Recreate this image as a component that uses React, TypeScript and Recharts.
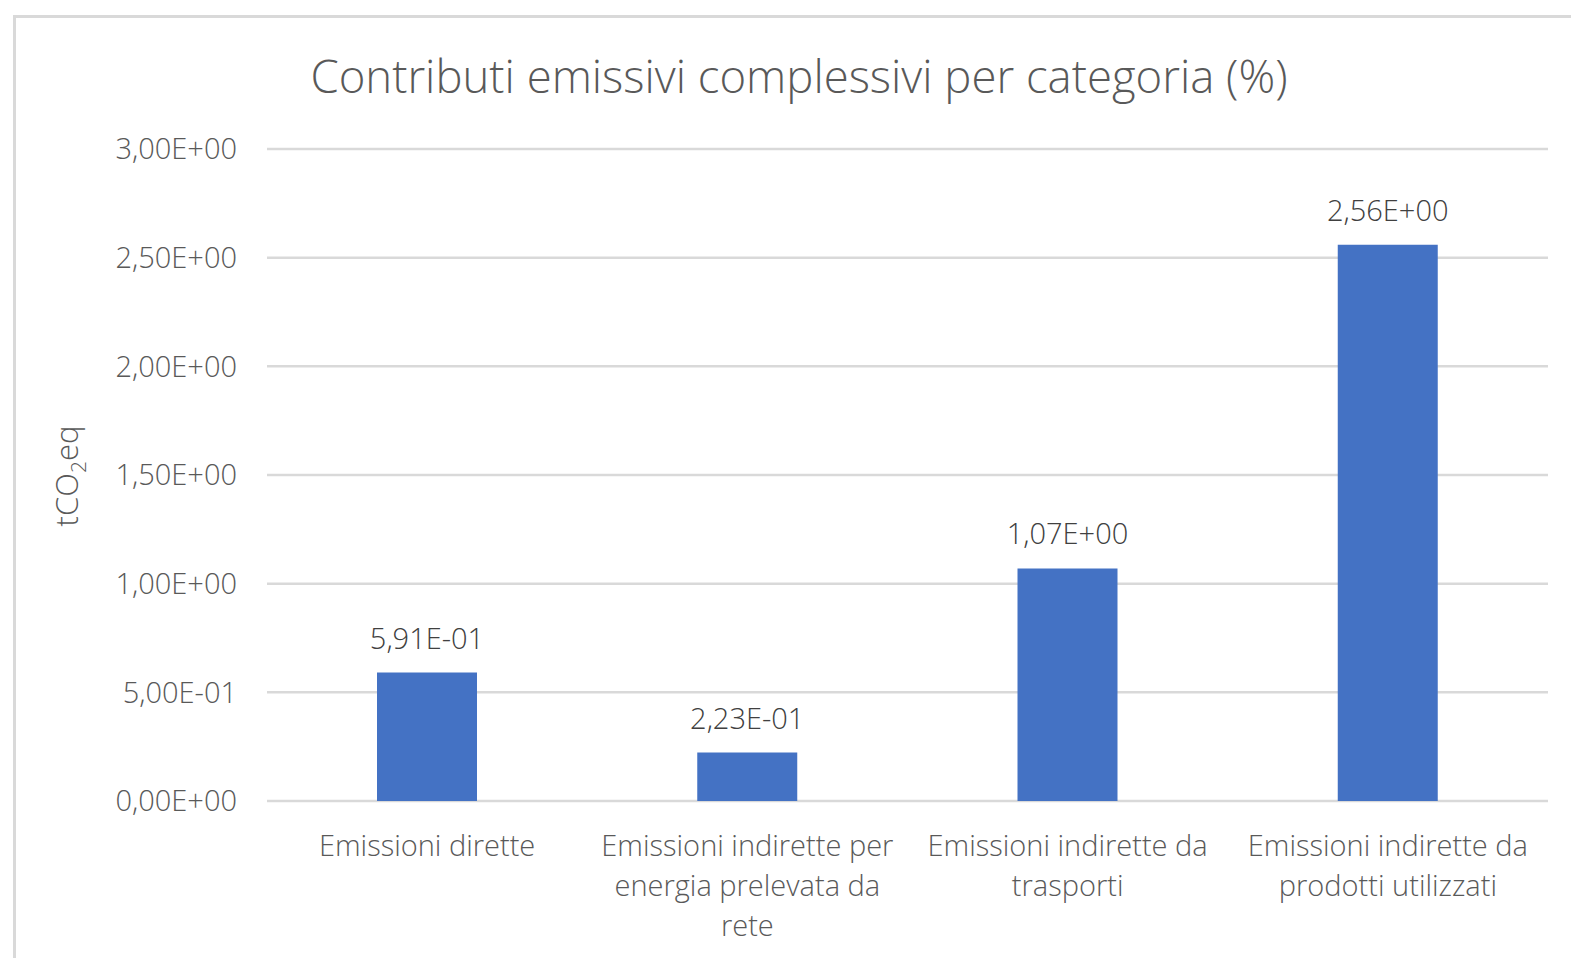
import React from "react";
import { BarChart, Bar, XAxis, YAxis, CartesianGrid, LabelList, Label } from "recharts";

const categories = [
  "Emissioni dirette",
  "Emissioni indirette per energia prelevata da rete",
  "Emissioni indirette da trasporti",
  "Emissioni indirette da prodotti utilizzati",
];

// wrapped lines as they appear under each bar
const tickLines = [
  ["Emissioni dirette"],
  ["Emissioni indirette per", "energia prelevata da", "rete"],
  ["Emissioni indirette da", "trasporti"],
  ["Emissioni indirette da", "prodotti utilizzati"],
];

const values = [0.591, 0.223, 1.07, 2.56];
const yTicks = [0, 0.5, 1, 1.5, 2, 2.5, 3];

const data = categories.map((name, i) => ({ name, value: values[i], idx: i }));

const FONT = "'Open Sans', 'Noto Sans', sans-serif";
const GREY = "#595959";

// 5.91e-1 -> 5,91E-01
function sci(v: number) {
  const [m, e] = v.toExponential(2).split("e");
  const exp = parseInt(e, 10);
  const sign = exp < 0 ? "-" : "+";
  const abs = Math.abs(exp).toString().padStart(2, "0");
  return m.replace(".", ",") + "E" + sign + abs;
}

function CatTick(props: any) {
  const { x, y, payload } = props;
  const lines = tickLines[payload.index] || [payload.value];
  return (
    <text x={x} y={y} textAnchor="middle" fill={GREY} fontSize={29} fontFamily={FONT} fontWeight={300}>
      {lines.map((l, i) => (
        <tspan key={i} x={x} dy={i === 0 ? 47 : 40}>
          {l}
        </tspan>
      ))}
    </text>
  );
}

function YTitle() {
  return (
    <text
      transform="translate(78,476) rotate(-90)"
      textAnchor="middle"
      fill={GREY}
      fontSize={31}
      fontFamily={FONT}
      fontWeight={300}
    >
      tCO
      <tspan fontSize={21} dy={8}>2</tspan>
      <tspan dy={-8}>eq</tspan>
    </text>
  );
}

export default function App() {
  return (
    <div style={{ position: "absolute", left: 0, top: 0, width: 1571, height: 958, background: "#fff", overflow: "hidden" }}>
      <div
        style={{
          position: "absolute",
          left: 13,
          top: 15,
          right: -10,
          bottom: -10,
          borderLeft: "3px solid #d9d9d9",
          borderTop: "3px solid #d9d9d9",
        }}
      />
      <div
        style={{
          position: "absolute",
          left: 0,
          width: 1598,
          top: 48,
          textAlign: "center",
          fontFamily: FONT,
          fontWeight: 300,
          fontSize: 45.5,
          color: GREY,
          lineHeight: "54px",
        }}
      >
        Contributi emissivi complessivi per categoria (%)
      </div>
      <div style={{ position: "absolute", left: 0, top: 0 }}>
        <BarChart width={1571} height={958} data={data} margin={{ top: 149, right: 23, bottom: 0, left: 0 }}>
          <CartesianGrid vertical={false} stroke="#d9d9d9" strokeWidth={2.5} />
          <XAxis
            dataKey="name"
            axisLine={false}
            tickLine={false}
            tick={<CatTick />}
            interval={0}
            height={157}
          />
          <YAxis
            width={267}
            domain={[0, 3]}
            ticks={yTicks}
            axisLine={false}
            tickLine={false}
            tickSize={0}
            tickMargin={30}
            tickFormatter={sci}
            tick={{ fill: GREY, fontSize: 29, fontFamily: FONT, fontWeight: 300 }}
          >
            <Label content={<YTitle />} />
          </YAxis>
          <Bar dataKey="value" fill="#4472C4" barSize={100} isAnimationActive={false}>
            <LabelList
              dataKey="value"
              position="top"
              offset={24}
              formatter={(v: any) => sci(Number(v))}
              fill="#404040"
              fontSize={29}
              fontFamily={FONT}
              fontWeight={300}
            />
          </Bar>
        </BarChart>
      </div>
    </div>
  );
}
